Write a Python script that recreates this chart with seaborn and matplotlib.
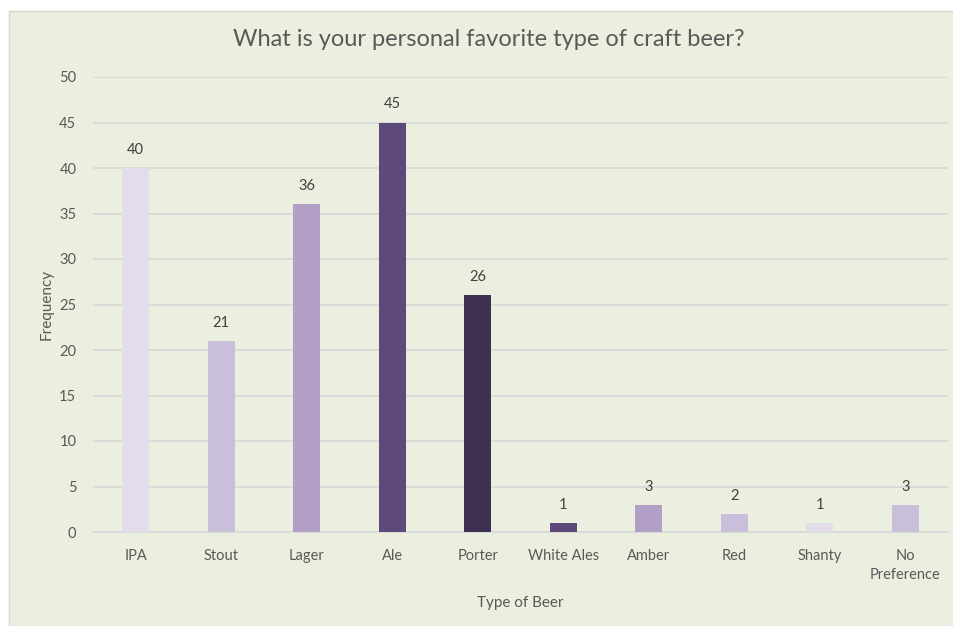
import matplotlib
matplotlib.use("Agg")
import matplotlib.pyplot as plt
from matplotlib.patches import Rectangle
import seaborn as sns
import pandas as pd

categories = ["IPA", "Stout", "Lager", "Ale", "Porter", "White Ales",
              "Amber", "Red", "Shanty", "No\nPreference"]
counts = [40, 21, 36, 45, 26, 1, 3, 2, 1, 3]
bar_colors = ["#E3DDEB", "#C9BFDA", "#B19FC6", "#5E4A7A", "#3E3152",
              "#5E4A7A", "#B19FC6", "#C9BFDA", "#E3DDEB", "#C9BFDA"]
y_ticks = [0, 5, 10, 15, 20, 25, 30, 35, 40, 45, 50]

sns.set_theme(style="white")
plt.rcParams["font.family"] = ["Lato", "DejaVu Sans"]

W, H = 954, 626
fig = plt.figure(figsize=(W / 100, H / 100), dpi=100, facecolor="white")

bg = "#EBEFDF"
fig.patches.append(Rectangle((9 / W, 0), 1 - 9 / W, 1 - 11 / H,
                             transform=fig.transFigure, facecolor=bg,
                             edgecolor="#D6D8D0", linewidth=1.0, zorder=-5))

ax = fig.add_axes([93 / W, (H - 532) / H, (948 - 93) / W, (532 - 77) / H])
ax.set_facecolor("none")
ax.set_zorder(2)

df = pd.DataFrame({"type": categories, "count": counts})
sns.barplot(data=df, x="type", y="count", hue="type",
            palette=dict(zip(categories, bar_colors)), legend=False,
            width=0.32, ax=ax, zorder=3, saturation=1, linewidth=0)

ax.set_ylim(0, 50)
ax.set_xlim(-0.5, len(categories) - 0.5)
ax.set_yticks(y_ticks)
ax.yaxis.grid(True, color="#D9D9D9", linewidth=1.3, zorder=0)
ax.xaxis.grid(False)
ax.set_axisbelow(True)
for s in ["top", "right", "left"]:
    ax.spines[s].set_visible(False)
ax.spines["bottom"].set_color("#D9D9D9")
ax.spines["bottom"].set_linewidth(1.3)
ax.tick_params(axis="both", length=0, colors="#595959", labelsize=10.5)
ax.tick_params(axis="x", pad=12)
ax.tick_params(axis="y", pad=12)
for lbl in ax.get_xticklabels():
    lbl.set_linespacing(1.45)

for i, v in enumerate(counts):
    ax.annotate(str(v), (i, v), xytext=(0, 8), textcoords="offset points",
                ha="center", va="bottom", fontsize=10.5, color="#404040")

ax.set_xlabel("Type of Beer", fontsize=11, color="#595959", labelpad=10)
ax.set_ylabel("Frequency", fontsize=11, color="#595959", labelpad=4)

fig.text(489 / W, (H - 40) / H,
         "What is your personal favorite type of craft beer?",
         ha="center", va="center", fontsize=17, color="#595959")

fig.savefig("out.png", dpi=100, facecolor="white")
